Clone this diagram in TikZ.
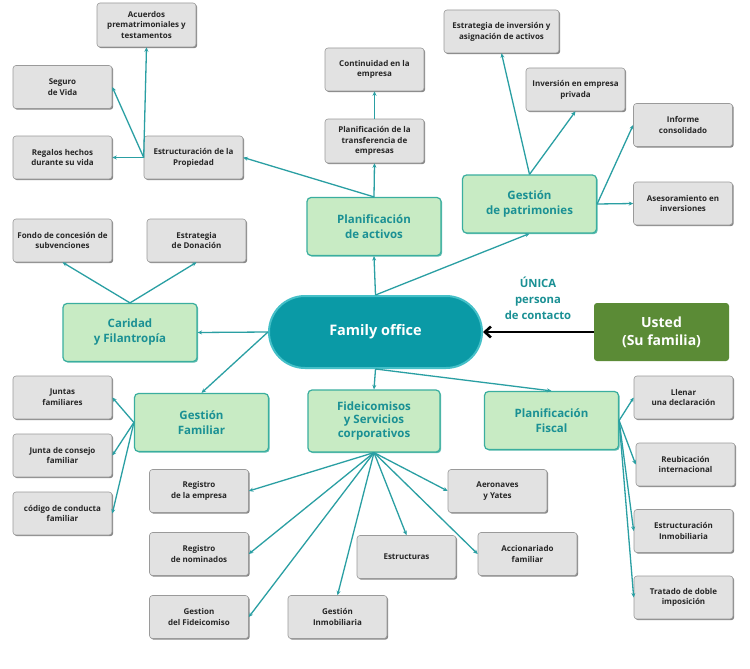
\documentclass[tikz,border=0pt]{standalone}
\usepackage{fontspec}
\setmainfont{Open Sans}
\usetikzlibrary{arrows.meta,shadows}
\definecolor{lnk}{HTML}{2A9FA3}
\definecolor{grayfill}{HTML}{E2E2E2}
\definecolor{grayline}{HTML}{9A9A9A}
\definecolor{grayshadow}{HTML}{555555}
\definecolor{greenfill}{HTML}{C8EBC4}
\definecolor{greenline}{HTML}{3AAE9F}
\definecolor{greentext}{HTML}{1A9094}
\definecolor{fofill}{HTML}{0A9AA6}
\definecolor{foline}{HTML}{45C0C8}
\definecolor{usfill}{HTML}{5B8B36}
\definecolor{txt}{HTML}{262626}
\tikzset{
  graybox/.style={draw=grayline, line width=0.6pt, fill=grayfill, rounded corners=3pt,
    minimum width=99pt, minimum height=43pt, align=center, text=txt,
    font=\fontsize{8}{10.8}\selectfont\bfseries,
    drop shadow={shadow xshift=1.2pt, shadow yshift=-1.2pt, fill=grayshadow, opacity=0.7}},
  greenbox/.style={draw=greenline, line width=1.2pt, fill=greenfill, rounded corners=4pt,
    minimum width=134pt, minimum height=58pt, align=center, text=greentext,
    font=\fontsize{11.5}{15}\selectfont\bfseries,
    drop shadow={shadow xshift=1.2pt, shadow yshift=-1.2pt, fill=greenline, opacity=0.8}},
  lnkarrow/.style={draw=lnk, line width=1.3pt, -{Stealth[length=4.5pt,width=4pt]}},
}
\begin{document}
\begin{tikzpicture}[x=1pt,y=-1pt]
\useasboundingbox (0,0) rectangle (750,669);
\fill[white] (0,0) rectangle (750,669);

% centre
\node[draw=foline, line width=2pt, fill=fofill, rounded corners=36pt,
  minimum width=213pt, minimum height=72pt, text=white,
  font=\fontsize{14.5}{17}\selectfont\bfseries] (fo) at (375.5,332) {Family office};
\node[fill=usfill, rounded corners=3pt, minimum width=135pt, minimum height=58pt,
  text=white, align=center, font=\fontsize{14}{18}\selectfont\bfseries] (us) at (661.5,332) {Usted\\(Su familia)};
\node[text=greentext, align=center, font=\fontsize{11.3}{16}\selectfont\bfseries] (unica) at (538,298) {ÚNICA\\persona\\de contacto};

% green boxes
\node[greenbox] (act) at (374,226.5) {Planificación\\de activos};
\node[greenbox] (pat) at (529.5,204) {Gestión\\de patrimonies};
\node[greenbox] (car) at (130,332.5) {Caridad\\y Filantropía};
\node[greenbox] (gfam) at (201.5,422.5) {Gestión\\Familiar};
\node[greenbox, minimum width=132pt, minimum height=62pt, font=\fontsize{11.5}{13.8}\selectfont\bfseries] (fid) at (374,421) {Fideicomisos\\y Servicios\\corporativos};
\node[greenbox] (fis) at (551.5,420.5) {Planificación\\Fiscal};

% gray boxes
\node[graybox, minimum height=44pt] (acu) at (146.5,25) {Acuerdos\\prematrimoniales y\\testamentos};
\node[graybox] (seg) at (62.5,87) {Seguro\\de Vida};
\node[graybox] (reg) at (62.5,157.5) {Regalos hechos\\durante su vida};
\node[graybox] (estr) at (193.5,157.5) {Estructuración de la\\Propiedad};
\node[graybox] (cont) at (374.5,69.5) {Continuidad en la\\empresa};
\node[graybox, minimum height=44pt] (tran) at (374.5,141) {Planificación de la\\transferencia de\\empresas};
\node[graybox, minimum width=115pt] (einv) at (501.5,31.5) {Estrategia de inversión y\\asignación de activos};
\node[graybox] (inv) at (575.5,89.5) {Inversión en empresa\\privada};
\node[graybox] (inf) at (683,125) {Informe\\consolidado};
\node[graybox] (ase) at (683,203.5) {Asesoramiento en\\inversiones};
\node[graybox] (fon) at (62.5,240.5) {Fondo de concesión de\\subvenciones};
\node[graybox] (don) at (196.5,240.5) {Estrategia\\de Donación};
\node[graybox] (jun) at (62.5,397.5) {Juntas\\familiares};
\node[graybox] (jcf) at (62.5,455.5) {Junta de consejo\\familiar};
\node[graybox] (cod) at (62.5,513.5) {código de conducta\\familiar};
\node[graybox] (rem) at (199,491) {Registro\\de la empresa};
\node[graybox] (rno) at (199,554) {Registro\\de nominados};
\node[graybox] (gfi) at (199,617) {Gestion\\del Fideicomiso};
\node[graybox] (gin) at (337.5,617) {Gestión\\Inmobiliaria};
\node[graybox] (est) at (406.5,557) {Estructuras};
\node[graybox] (aer) at (497.5,491) {Aeronaves\\y Yates};
\node[graybox] (acc) at (527.5,554) {Accionariado\\familiar};
\node[graybox] (lle) at (683.5,397.5) {Llenar\\una declaración};
\node[graybox] (reu) at (685.5,464.5) {Reubicación\\internacional};
\node[graybox] (ein) at (683.5,531) {Estructuración\\Inmobiliaria};
\node[graybox] (tra) at (683.5,597.5) {Tratado de doble\\imposición};

% contact arrow
\draw[line width=2.6pt, -{Straight Barb[length=6pt,width=11pt]}] (us.west) -- (fo.east);

% from family office
\draw[lnkarrow] (fo.north) -- (act.south);
\draw[lnkarrow] (fo.north) -- (pat.south);
\draw[lnkarrow] (fo.west) -- (car.east);
\draw[lnkarrow] (fo.west) -- (gfam.north);
\draw[lnkarrow] (fo.south) -- (fid.north);
\draw[lnkarrow] (fo.south) -- (fis.north);

% planificacion de activos
\draw[lnkarrow] (act.north) -- (tran.south);
\draw[lnkarrow] (tran.north) -- (cont.south);
\draw[lnkarrow] (act.north) -- (estr.east);
\draw[lnkarrow] (estr.west) -- (reg.east);
\draw[lnkarrow] (estr.west) -- (seg.east);
\draw[lnkarrow] (estr.west) -- (acu.south);

% patrimonios
\draw[lnkarrow] (pat.north) -- (einv.south);
\draw[lnkarrow] (pat.north) -- (inv.south);
\draw[lnkarrow] (pat.east) -- (inf.west);
\draw[lnkarrow] (pat.east) -- (ase.west);

% caridad
\draw[lnkarrow] (car.north) -- (fon.south);
\draw[lnkarrow] (car.north) -- (don.south);

% gestion familiar
\draw[lnkarrow] (gfam.west) -- (jun.east);
\draw[lnkarrow] (gfam.west) -- (jcf.east);
\draw[lnkarrow] (gfam.west) -- (cod.east);

% fideicomisos
\draw[lnkarrow] (fid.south) -- (rem.east);
\draw[lnkarrow] (fid.south) -- (rno.east);
\draw[lnkarrow] (fid.south) -- (gfi.east);
\draw[lnkarrow] (fid.south) -- (gin.north);
\draw[lnkarrow] (fid.south) -- (est.north);
\draw[lnkarrow] (fid.south) -- (aer.west);
\draw[lnkarrow] (fid.south) -- (acc.west);

% fiscal
\draw[lnkarrow] (fis.east) -- (lle.west);
\draw[lnkarrow] (fis.east) -- (reu.west);
\draw[lnkarrow] (fis.east) -- (ein.west);
\draw[lnkarrow] (fis.east) -- (tra.west);
\end{tikzpicture}
\end{document}
